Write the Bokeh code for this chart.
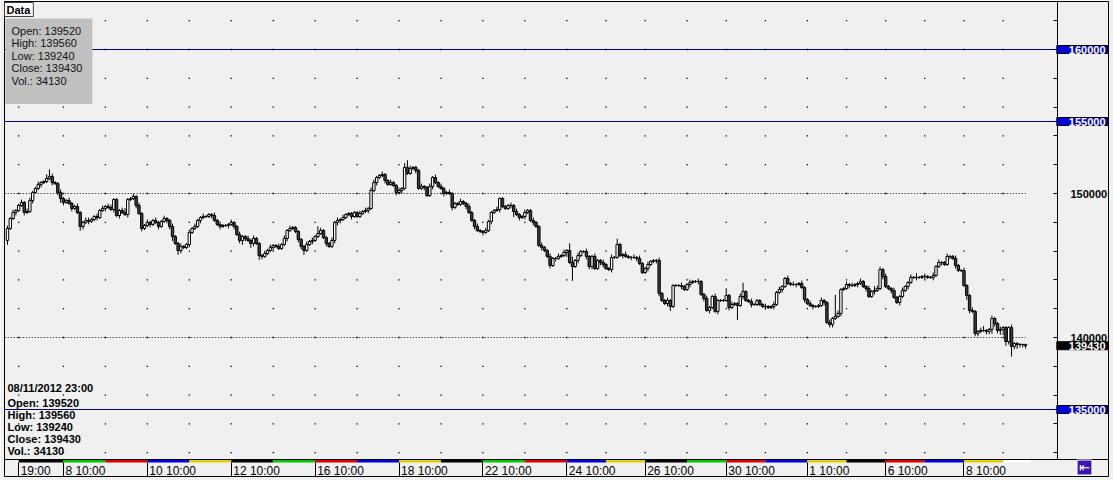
from bokeh.plotting import figure
from bokeh.models import Range1d, FixedTicker, Span, Label, ColumnDataSource, LinearAxis
from bokeh.embed import file_html
from bokeh.resources import INLINE

# ---------------- data (hourly bars, 05/10/2012 19:00 .. 08/11/2012 23:00) ----------------
first_open = 146740

close_part1 = [
    147570, 148260, 148680, 148820, 149170, 149380, 148680, 148750, 149510, 150070,
    150350, 150630, 150760, 150830, 151040, 151180, 150760, 150690, 150070, 149650,
    149380, 149510, 149310, 148960, 149100, 148680, 147710, 147990, 148130, 148060,
    148190, 148400, 148330, 148820, 148960, 149100, 149030, 148890, 149580, 148470,
    148820, 148680, 148540, 149580, 149650, 149790, 149170, 148610, 147570, 147780,
    147990, 147850, 148130, 147990, 147710, 148060, 148260, 148130, 147710, 147010,
    146530, 146040, 146320, 146250, 146460, 147290, 147570, 147710, 148130, 148330,
    148400, 148400, 148540, 148470, 148130, 147850, 147710, 147780, 147780, 147850,
    147990, 147710, 147150, 146740, 147010, 146880, 146740, 146530,
]
close_part2 = [
    146880, 146530, 145690, 145630, 145830, 146040, 146250, 146390, 146320, 146180,
    146460, 146880, 147430, 147570, 147640, 147360, 146810, 146320, 146040, 146460,
    146670, 146740, 147010, 147220, 147430, 146940, 146530, 146320, 146740, 147990,
    148130, 148190, 148330, 148540, 148610, 148400, 148680,
]
close_part3 = [
    148400, 148610, 148750, 148820, 148960, 150210, 150760, 151110, 151250,
    151320, 150900, 150630, 150760, 150560, 150070, 150210, 150350, 151810, 151390,
    151740, 151810, 151600, 150350, 150490, 150420, 149860, 150490, 151110, 150760,
    150490, 150350, 150000, 150070, 150000, 149030, 149310, 149240, 149440, 149310,
    149100, 148680, 148130, 147710, 147430, 147360, 147290, 147430, 148060, 148680,
    148820, 148890, 149650, 149100, 148960, 149170, 149170, 148750, 148540, 148330,
    148400, 148680, 148820, 148130, 147990, 147710, 146390, 146250, 146040, 145630,
    145000, 145490, 145490, 145630, 145690, 145900, 146040, 145210, 144930, 145350,
    145690, 145970, 145970, 145630, 144930,
]
close_part4 = [
    145630, 144790, 145350, 145210, 145070, 144790, 144720, 145560, 145560, 146460,
    145690, 145760, 145630, 145560, 145560, 145560, 145490, 145140, 144510, 144790,
    145070, 145280, 145350, 145350, 143060, 142570, 142360, 142570, 142150, 143610,
    143610, 143610, 143540, 143330, 143680, 143820, 143890, 143890, 143890, 142990,
    142710, 141880, 142080, 142850, 141810, 142570, 142570, 142570, 142920, 142080,
    142290, 142360, 142220, 142850, 143190, 142570, 142500, 142290, 142290, 142570,
    142290, 142150, 142150, 142080, 142150, 142290, 143130, 143330, 143540, 144100,
    143750,
]
close_part5 = [
    143680, 143680, 143680, 143750, 143470, 142640, 142360, 142220, 142150, 142150,
    142220, 142570, 142430, 141040, 140900, 141320, 141460, 141670, 143330, 143400,
    143680, 143610, 143610, 143680, 143750, 143890, 143540, 143400, 142850, 143190,
    143260, 143400, 144720, 144240, 143540, 143400, 143260, 142780, 142430, 142850,
    143260, 143540, 143820, 144170, 144170, 144170, 144170, 144240, 144240, 144170,
    144170, 144310, 144930, 145210, 145210, 145070, 145630, 145630, 145490, 145000,
    144650, 144650, 143610, 142920, 141880, 141810, 140280, 140420, 140490, 140490,
    140420, 140560, 141320, 140970, 140490, 140560, 140690, 139720, 140690, 139380,
    139580, 139510, 139510, 139520, 139430,
]

# wick lengths above / below the body, in hundreds of points
upper_wick_part1 = [2,1,2,1,1,2,1,2,2,1, 1,2,1,1,3,5,2,1,1,2, 1,1,2,1,1,2,1,1,2, 2,1,1,2,1,2,1,2,2,1,
                    1,1,2, 3,1,1,2,1,2, 1,1,2,1,1,2,1,1,2,1, 1,2,1,1,2,1,1,2,1,2, 1,1,2, 1, 1,1,2,1,2,1,
                    1, 1, 2,1,1,2,1,1,2,1]
lower_wick_part1 = [3,1,1,2,1,1,2,1,1,2, 1,1,2,1,1,1,2,1,2,3, 2,1,1,2,1,1,3,2,1, 2,1,1,2,1,1,2,1,1,2,
                    1,2,1, 1,2,1,1,2,1, 2,1,1,2,1,1,2,1,1,2, 2,3,1,3,2,1,1,2,1,1, 1,2,1, 1, 1,2,1,1,2,1,
                    1, 2, 1,2,1,2,3,2,1,3]
upper_wick_part2 = [2,1,1,1,2,1,2,1,1,2, 1,2,1,2,1,1,1,1,1,2, 1,2,1,5,2,1,1,1,2,1, 2,1,2,1,1,1,1]
lower_wick_part2 = [2,1,3,2,1,1,1,2,1,1, 1,1,2,1,1,1,2,2,3,1, 1,2,1,1,1,1,2,1,1,2, 2,2,1,1,1,2,1]
upper_wick_part3 = [1,2,1,2,1,2,2,1,1, 2,1,1,2,1,1,2,1,3,5, 2,1,1,1,2,1,1,2,1,2, 1,2,1,1,2,1,1,1,2,1,
                    1,2,1,1,2,1,1,2,1,1, 1,2,1,1,1,1,2,1,2,1, 1,2,1,1,2,1,1,2,1,1, 2,1,1,2,1,2,1,5,4,1,
                    2,1,1,2,1]
lower_wick_part3 = [1,1,1,1,2,1,1,2,1, 1,2,1,1,1,2,1,2,1,1, 1,1,2,1,1,2,1,1,2,1, 1,1,2,1,1,2,1,1,1,1,
                    2,1,1,2,1,1,2,1,1,2, 1,1,2,1,1,1,2,4,1,2, 1,2,1,1,2,1,1,2,1,1, 2,1,2,1,1,1,3,1,10,1,
                    2,1,1,2,2]
upper_wick_part4 = [1,2,1,1,2,1,1,2,1,4, 1,1,2,1,1,2,1,2,1,1, 2,1,1,1,2,1,1,2,1,1, 1,1,2,1,1,2,1,1,2,1,
                    1,2,1,1,2,1,1,1,5,1, 2,1,1,2,6,1,1,2,1,1, 1,1,2,1,1,2,1,2,1,1, 2]
lower_wick_part4 = [2,1,1,2,2,1,1,2,1,1, 1,2,1,1,2,1,2,1,1,1, 2,1,1,2,2,1,1,2,3,1, 1,1,2,1,1,2,1,1,2,1,
                    2,1,2,1,1,2,1,1,1,2, 1,1,10,1,2,1,1,2,1,1, 1,1,2,1,1,2,1,1,2,1, 1]
upper_wick_part5 = [1,2,1,1,2,1,1,2,1,1, 1,2,1,1,2,1,15,2,1,1, 2,1,2,1,1,2,1,1,2,1, 3,2,2,1,2,1,1,2,1,1,
                    2,1,1,2,1,3,1,1,2,1, 1,2,1,2,1,1,2,1,1,2, 1,1,2,1,1,2,1,1,2,3, 1,1,2,1,1,2,1,1,1,2,
                    1,1,1,0.4,0.4]
lower_wick_part5 = [1,1,2,1,1,2,1,1,2,1, 1,1,2,1,2,2,1,1,2,1, 1,2,1,1,2,1,1,2,1,1, 2,1,1,2,1,1,2,1,1,2,
                    1,1,2,1,1,2,1,1,2,1, 1,2,1,1,2,1,1,2,1,2, 1,1,1,3,2,1,2,2,1,1, 2,2,3,2,2,3,4,3,2,7,
                    2,3,2,2,1.9]

# trading-day starts (bar index), weekday colour strip, time-axis labels
day_start_bar = [4, 20, 35, 50, 65, 80, 95, 110, 125, 140, 155, 170, 185, 200,
                 214, 228, 243, 257, 271, 286, 300, 314, 328, 342, 356]
day_strip_color = ["#000000", "#00C800", "#DD0000", "#0000DD", "#E3D000",
                   "#000000", "#00C800", "#DD0000", "#0000DD", "#E3D000",
                   "#000000", "#00C800", "#DD0000", "#0000DD", "#E3D000",
                   "#000000", "#00C800", "#DD0000", "#0000DD", "#E3D000",
                   "#000000", "#DD0000", "#0000DD", "#E3D000", "#FFFFFF"]
time_tick_bar = [4, 20, 50, 80, 110, 140, 170, 200, 228, 257, 286, 314, 342]
time_tick_label = ["19:00", "8 10:00", "10 10:00", "12 10:00", "16 10:00", "18 10:00",
                   "22 10:00", "24 10:00", "26 10:00", "30 10:00", "1 10:00", "6 10:00", "8 10:00"]

level_lines = [160000, 155000, 135000]
dotted_levels = [150000, 140000]
price_ticks = list(range(132000, 164000, 2000))
labelled_prices = [150000, 140000]

last_bar_time = "08/11/2012 23:00"
last_open, last_high, last_low, last_close, last_volume = 139520, 139560, 139240, 139430, 34130

# ---------------- assemble ----------------
closes = close_part1 + close_part2 + close_part3 + close_part4 + close_part5
upper = upper_wick_part1 + upper_wick_part2 + upper_wick_part3 + upper_wick_part4 + upper_wick_part5
lower = lower_wick_part1 + lower_wick_part2 + lower_wick_part3 + lower_wick_part4 + lower_wick_part5
assert len(closes) == len(upper) == len(lower), (len(closes), len(upper), len(lower))
n = len(closes)
opens = [first_open] + closes[:-1]
xs = list(range(n))
highs = [max(o, c) + u * 100 for o, c, u in zip(opens, closes, upper)]
lows = [min(o, c) - l * 100 for o, c, l in zip(opens, closes, lower)]

inc = [i for i in xs if closes[i] >= opens[i]]
dec = [i for i in xs if closes[i] < opens[i]]

def src(ids):
    return ColumnDataSource(dict(
        x=[xs[i] for i in ids],
        top=[max(opens[i], closes[i]) for i in ids],
        bottom=[min(opens[i], closes[i]) for i in ids],
    ))

# ---------------- layout constants ----------------
BG = "#F0F0F0"
PX = 1018.0 / (n - 1)              # pixels per bar (first bar at x=7, last at x=1025)
X0, X1 = -3.0 / PX, 1101.0 / PX    # frame spans the price-scale panel too
AXIS_X = 1050.0 / PX               # where the price scale line sits
PPX = 1000 / 14.4                  # price points per pixel
Y1 = 150000 + 192 * PPX            # top of frame
Y0 = 150000 - 283 * PPX            # bottom of frame (time-scale band included)
Y_AX = 150000 - 269 * PPX          # time-scale baseline

p = figure(width=1113, height=480, output_backend="svg", toolbar_location=None,
           x_range=Range1d(X0, X1), y_range=Range1d(Y0, Y1),
           y_axis_location=None, x_axis_location=None,
           min_border_left=4, min_border_top=1, min_border_right=5, min_border_bottom=4)
p.background_fill_color = BG
p.border_fill_color = BG
p.outline_line_color = "black"
p.grid.visible = False

# grid dots
gx, gy = [], []
for d in day_start_bar:
    for t in price_ticks:
        gx.append(d)
        gy.append(t)
p.scatter(gx, gy, marker="square", size=1.3, fill_color="black", line_color=None)

# dotted price lines
p.segment(x0=[X0 - 1] * len(dotted_levels), x1=[n - 1] * len(dotted_levels), y0=dotted_levels,
          y1=dotted_levels, line_color="black", line_dash="1 2", line_width=1)

# level lines (stop at the price scale)
p.segment(x0=[X0 - 1] * len(level_lines), x1=[AXIS_X] * len(level_lines), y0=level_lines,
          y1=level_lines, line_color="#00007A", line_width=1)

# candles
p.segment(xs, highs, xs, lows, line_color="black", line_width=1)
p.vbar(x="x", top="top", bottom="bottom", width=0.85, source=src(inc),
       fill_color="white", line_color="black", line_width=1)
p.vbar(x="x", top="top", bottom="bottom", width=0.85, source=src(dec),
       fill_color="#404040", line_color="black", line_width=1)

# weekday colour strip above the time scale
p.quad(left=day_start_bar, right=day_start_bar[1:] + [n + 0.6], bottom=Y_AX, top=Y_AX + 2.6 * PPX,
       fill_color=day_strip_color, line_color=None)
p.add_layout(Span(location=Y_AX + 3 * PPX, dimension="width", line_color="black", line_width=1))

# time scale: labels set just right of each tick
char_w = {" ": 3.34, ":": 3.34}
def text_w(s):
    return sum(char_w.get(ch, 6.67) for ch in s)
label_pos = [b + (text_w(s) / 2 + 2) / PX for b, s in zip(time_tick_bar, time_tick_label)]
xl = LinearAxis(fixed_location=Y_AX)
xl.ticker = FixedTicker(ticks=label_pos)
xl.major_label_overrides = {pos: s for pos, s in zip(label_pos, time_tick_label)}
xl.axis_line_color = None
xl.major_tick_in = 0
xl.major_tick_out = 0
xl.major_tick_line_color = None
xl.minor_tick_line_color = None
xl.major_label_standoff = 1
xl.major_label_text_font = "Liberation Sans"
xl.major_label_text_font_size = "12px"
xl.major_label_text_color = "black"
p.add_layout(xl, "below")

# time scale tick marks hanging down from the baseline
xt = LinearAxis(fixed_location=Y_AX)
xt.ticker = FixedTicker(ticks=time_tick_bar)
xt.major_label_overrides = {b: "" for b in time_tick_bar}
xt.major_label_text_font_size = "0px"
xt.major_label_standoff = 0
xt.axis_line_color = None
xt.major_tick_in = 0
xt.major_tick_out = 14
xt.major_tick_line_color = "black"
xt.minor_tick_line_color = None
p.add_layout(xt, "below")

# price scale, drawn at AXIS_X inside the frame
ya = LinearAxis(fixed_location=AXIS_X, bounds=(Y_AX + 3 * PPX, Y1))
ya.ticker = FixedTicker(ticks=price_ticks)
ya.major_label_overrides = {t: (str(t) if t in labelled_prices else "") for t in price_ticks}
ya.axis_line_color = "black"
ya.major_tick_in = 4
ya.major_tick_out = 0
ya.minor_tick_line_color = None
ya.major_label_standoff = 13
ya.major_label_text_font = "Liberation Sans"
ya.major_label_text_font_style = "bold"
ya.major_label_text_font_size = "11px"
ya.major_label_text_color = "black"
p.add_layout(ya, "right")

PAD = dict(left=12, right=2, top=0, bottom=0)
for lv in level_lines:
    p.add_layout(Label(x=1103, x_units="screen", y=lv, y_units="data", text=str(lv),
                       text_align="right", text_baseline="middle", text_font="Liberation Sans",
                       text_font_style="bold", text_font_size="11px", text_color="white",
                       background_fill_color="#0000DD", border_line_color="black", padding=PAD))
p.add_layout(Label(x=1103, x_units="screen", y=last_close, y_units="data", text=str(last_close),
                   text_align="right", text_baseline="middle", text_font="Liberation Sans",
                   text_font_style="bold", text_font_size="11px", text_color="white",
                   background_fill_color="black", border_line_color="black", padding=PAD))

# frame height is 475 px: screen y below counts up from the frame bottom (y=476)
p.add_layout(Label(x=0, x_units="screen", y=467, y_units="screen", text="Data",
                   text_align="left", text_baseline="middle", text_font="Liberation Sans",
                   text_font_style="bold", text_font_size="11px", text_color="black",
                   background_fill_color="white", border_line_color="#404040",
                   padding=dict(left=2, right=3, top=1, bottom=1)))
info_text = (f"Open: {last_open}\nHigh: {last_high}\nLow: {last_low}\n"
             f"Close: {last_close}\nVol.: {last_volume}")
p.add_layout(Label(x=1, x_units="screen", y=458, y_units="screen", text=info_text,
                   text_align="left", text_baseline="top", text_font="Liberation Sans",
                   text_font_size="11px", text_color="#111111", text_line_height=1.05,
                   background_fill_color="#C0C0C0",
                   padding=dict(left=6, right=10, top=6, bottom=17)))

# bottom-left bar info
p.add_layout(Label(x=3, x_units="screen", y=89, y_units="screen", text=last_bar_time,
                   text_align="left", text_baseline="middle", text_font="Liberation Sans",
                   text_font_style="bold", text_font_size="11px", text_color="black"))
p.add_layout(Label(x=3, x_units="screen", y=80, y_units="screen", text=info_text,
                   text_align="left", text_baseline="top", text_font="Liberation Sans",
                   text_font_style="bold", text_font_size="11px", text_color="black",
                   text_line_height=1.02))

# scroll button in the bottom-right corner
p.add_layout(Label(x=1080, x_units="screen", y=9, y_units="screen", text="\u21e4",
                   text_align="center", text_baseline="middle", text_font="DejaVu Sans",
                   text_font_size="13px", text_color="white",
                   background_fill_color="#3C14B4", border_line_color="white",
                   padding=dict(left=2, right=2, top=0, bottom=0)))

open("out.html", "w").write(file_html(p, INLINE))
